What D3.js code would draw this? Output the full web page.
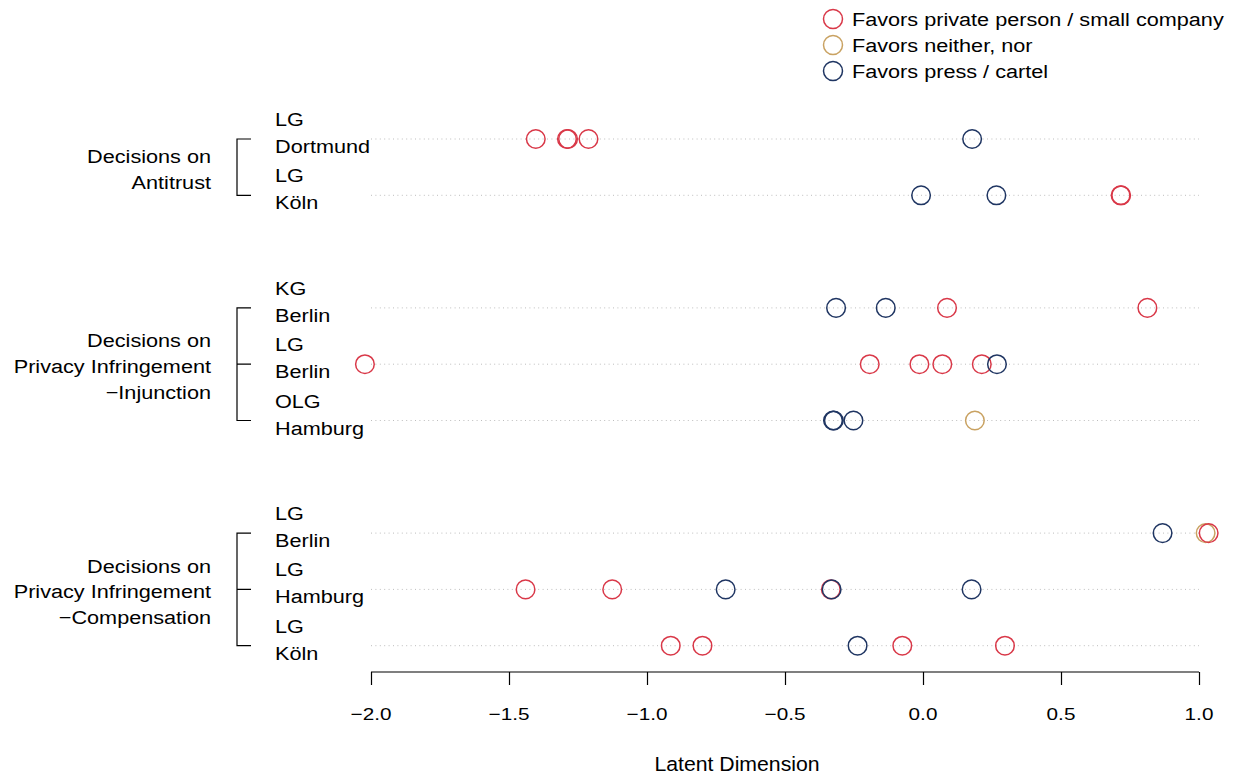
<!DOCTYPE html>
<html>
<head>
<meta charset="utf-8">
<script src="https://cdn.jsdelivr.net/npm/d3@7"></script>
<style>
  html, body { margin: 0; padding: 0; background: #fff; }
  svg { display: block; font-family: "Liberation Sans", Arial, Helvetica, sans-serif; }
</style>
</head>
<body>
<svg id="chart" width="1237" height="777"></svg>
<script>
// ---------- data ----------
const rowCourt = ["LG", "LG", "KG", "LG", "OLG", "LG", "LG", "LG"];
const rowCity  = ["Dortmund", "Köln", "Berlin", "Berlin", "Hamburg", "Berlin", "Hamburg", "Köln"];
const rowSlot  = [0, 1, 3, 4, 5, 7, 8, 9];
const groupLabels = [
  ["Decisions on", "Antitrust"],
  ["Decisions on", "Privacy Infringement", "\u2212Injunction"],
  ["Decisions on", "Privacy Infringement", "\u2212Compensation"]
];
const groupRows = [[0, 1], [2, 3, 4], [5, 6, 7]];

const favorLabels = ["Favors private person / small company", "Favors neither, nor", "Favors press / cartel"];
const favorColors = ["#d93848", "#c9a262", "#1f3562"];

// each decision: row index, latent score, favor category (0 private, 1 neither, 2 press)
const decisionRow   = [0, 0, 0, 0, 0,
                       1, 1, 1, 1,
                       2, 2, 2, 2,
                       3, 3, 3, 3, 3, 3,
                       4, 4, 4, 4,
                       5, 5, 5,
                       6, 6, 6, 6, 6, 6,
                       7, 7, 7, 7, 7];
const decisionScore = [-1.403, -1.290, -1.286, -1.212, 0.178,
                       -0.007, 0.266, 0.716, 0.718,
                       -0.315, -0.135, 0.087, 0.813,
                       -2.022, -0.193, -0.013, 0.070, 0.213, 0.268,
                       -0.326, -0.323, -0.252, 0.188,
                       0.868, 1.024, 1.035,
                       -1.440, -1.126, -0.715, -0.334, -0.331, 0.176,
                       -0.914, -0.799, -0.237, -0.075, 0.297];
const decisionFavor = [0, 0, 0, 0, 2,
                       2, 2, 0, 0,
                       2, 2, 0, 0,
                       0, 0, 0, 0, 0, 2,
                       2, 2, 2, 1,
                       2, 1, 0,
                       0, 0, 2, 0, 2, 2,
                       0, 0, 2, 0, 0];

const xTicks = [-2.0, -1.5, -1.0, -0.5, 0.0, 0.5, 1.0];
const xTitle = "Latent Dimension";

// ---------- layout ----------
const svg = d3.select("#chart");
const x = d3.scaleLinear().domain([-2, 1]).range([371, 1199]);
const y = d3.scaleLinear().domain([0, 9]).range([139, 645.7]);
const rowY = i => y(rowSlot[i]);

const FS = 19, SX = 1.14;
function label(g, px, py, str, anchor, fs, sx) {
  return g.append("text")
    .attr("transform", `translate(${px},${py}) scale(${sx || SX},1)`)
    .attr("text-anchor", anchor || "start")
    .attr("font-size", fs || FS)
    .attr("fill", "#000")
    .text(str);
}

// dotted guide lines
svg.append("g").selectAll("line").data(rowSlot).join("line")
  .attr("x1", x(-2)).attr("x2", x(1))
  .attr("y1", (d, i) => rowY(i)).attr("y2", (d, i) => rowY(i))
  .attr("stroke", "#bdbdbd").attr("stroke-width", 1)
  .attr("stroke-dasharray", "1,3.4");

// row labels
const rl = svg.append("g");
rowCourt.forEach((c, i) => {
  label(rl, 275, rowY(i) - 13, c);
  label(rl, 275, rowY(i) + 14, rowCity[i]);
});

// brackets and group labels
const gl = svg.append("g");
groupRows.forEach((rows, gi) => {
  const top = rowY(rows[0]), bot = rowY(rows[rows.length - 1]);
  const bx = 237, ex = 251;
  gl.append("path")
    .attr("d", `M${ex},${top}H${bx}V${bot}H${ex}` + (rows.length === 3 ? `M${bx},${rowY(rows[1])}H${ex}` : ""))
    .attr("fill", "none").attr("stroke", "#000").attr("stroke-width", 1.2);
  const lines = groupLabels[gi];
  const mid = (top + bot) / 2 + 9;
  const step = 25.8;
  lines.forEach((t, li) => {
    label(gl, 211, mid + (li - (lines.length - 1) / 2) * step, t, "end");
  });
});

// points
svg.append("g").selectAll("circle").data(decisionScore).join("circle")
  .attr("cx", d => x(d))
  .attr("cy", (d, i) => rowY(decisionRow[i]))
  .attr("r", 9.3)
  .attr("fill", "none")
  .attr("stroke", (d, i) => favorColors[decisionFavor[i]])
  .attr("stroke-width", 1.5);

// x axis
const axisY = 672;
const ax = svg.append("g").attr("transform", `translate(0,${axisY})`);
ax.call(d3.axisBottom(x).tickValues(xTicks).tickSize(13).tickFormat(() => ""));
ax.select(".domain").attr("stroke", "#000").attr("stroke-width", 1.2).attr("d", `M${x(-2)},0H${x(1)}`);
ax.selectAll(".tick line").attr("stroke", "#000").attr("stroke-width", 1.2);
const fmt = d3.format(".1f");
xTicks.forEach(t => {
  label(svg, x(t), 720, fmt(t).replace("-", "\u2212"), "middle", 17, 1.22);
});
label(svg, 737, 771, xTitle, "middle", 19.5, 1.09);

// legend
const lg = svg.append("g");
favorLabels.forEach((t, i) => {
  const ly = 19 + i * 26;
  lg.append("circle").attr("cx", 833).attr("cy", ly).attr("r", 9.5)
    .attr("fill", "none").attr("stroke", favorColors[i]).attr("stroke-width", 1.5);
  label(lg, 852, ly + 6.5, t);
});
</script>
</body>
</html>
